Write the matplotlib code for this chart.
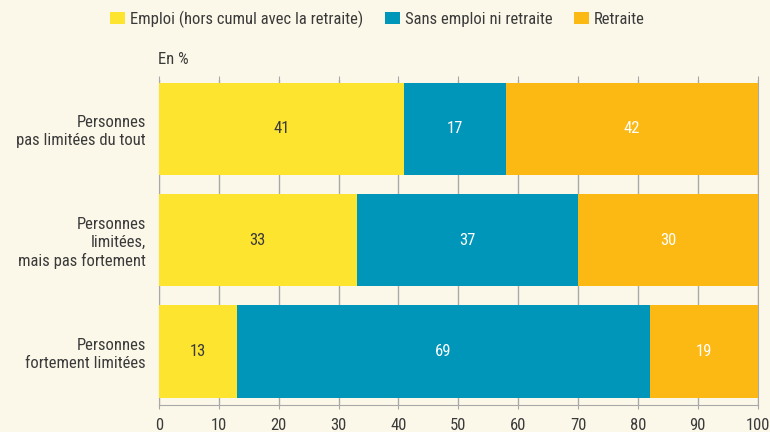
import matplotlib.pyplot as plt

# chart data
categories = ["Personnes\npas limitées du tout",
              "Personnes\nlimitées,\nmais pas fortement",
              "Personnes\nfortement limitées"]
series_names = ["Emploi (hors cumul avec la retraite)", "Sans emploi ni retraite", "Retraite"]
emploi = [41, 33, 13]
sans_emploi = [17, 37, 69]
retraite = [42, 30, 19]
xticks = [0, 10, 20, 30, 40, 50, 60, 70, 80, 90, 100]

colors = ["#FDE42F", "#0096BA", "#FDB913"]
text_colors = ["#3a3a3a", "white", "white"]
bg = "#FCF8E9"
grid_c = "#A8A8A8"
txt_c = "#3a3a3a"
fs = 12

plt.rcParams['font.family'] = ['Roboto Condensed', 'PT Sans Narrow', 'DejaVu Sans']

fig = plt.figure(figsize=(7.7, 4.32), dpi=100, facecolor=bg)
ax = fig.add_axes([0.2065, 0.0625, 0.7775, 0.7525], facecolor=bg)

y = range(len(categories))
left = [0] * len(categories)
for vals, name, col, tc in zip([emploi, sans_emploi, retraite], series_names, colors, text_colors):
    bars = ax.barh(y, vals, left=left, height=0.83, color=col, label=name, zorder=3)
    ax.bar_label(bars, labels=[str(v) for v in vals], label_type='center',
                 color=tc, fontsize=fs)
    left = [a + b for a, b in zip(left, vals)]

ax.set_xlim(0, 100)
ax.set_ylim(2.48, -0.44)
ax.set_xticks(xticks)
ax.set_yticks(list(y))
ax.set_yticklabels(categories, fontsize=fs, color=txt_c, linespacing=1.25)
ax.tick_params(axis='y', length=0, pad=9.5)
ax.tick_params(axis='x', length=3, color=grid_c, labelsize=fs, labelcolor=txt_c,
               top=True, direction='out', pad=6)
ax.grid(axis='x', color=grid_c, linewidth=1, zorder=0)
ax.spines['top'].set_visible(False)
for s in ['left', 'bottom', 'right']:
    ax.spines[s].set_color(grid_c)

fig.text(0.205, 0.845, "En %", fontsize=fs, color=txt_c, ha='left', va='bottom')

fig.legend(loc='center', bbox_to_anchor=(0.49, 0.956), ncol=3, frameon=False,
           handlelength=0.9, handleheight=0.75, handletextpad=0.3, columnspacing=1.3,
           fontsize=fs, labelcolor=txt_c, borderpad=0)

fig.savefig("out.png", dpi=100, facecolor=bg)
